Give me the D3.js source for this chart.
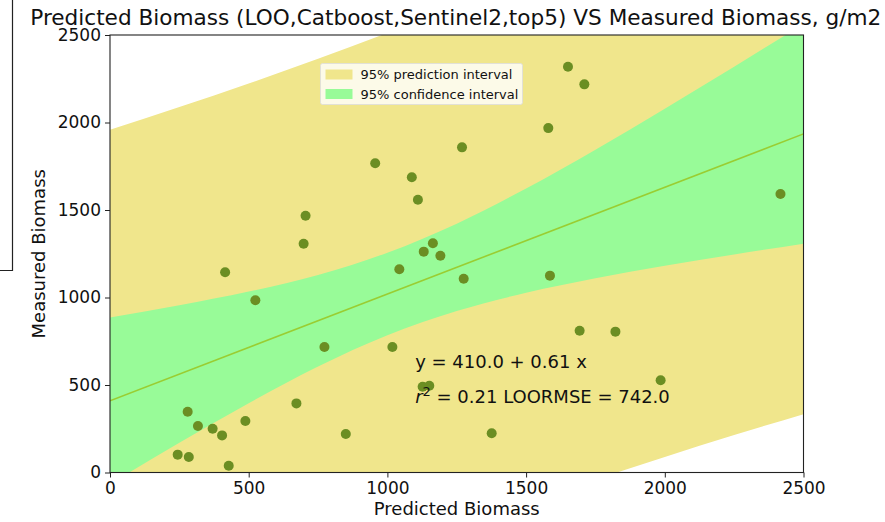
<!DOCTYPE html>
<html>
<head>
<meta charset="utf-8">
<script src="https://cdn.jsdelivr.net/npm/d3@7"></script>
<style>
  body { margin: 0; background: #fff; }
  svg { display: block; font-family: "DejaVu Sans", sans-serif; }
  .tick text { font-family: "DejaVu Sans", sans-serif; font-size: 17px; fill: #111; }
</style>
</head>
<body>
<svg id="chart" width="885" height="522"></svg>
<script>
// measured points (predicted, measured), g/m2
const predicted = [956, 1088, 1110, 705, 698, 415, 524, 1164, 1131, 1191, 1043, 773, 1018,
  280, 317, 370, 404, 488, 672, 850, 244, 284, 428, 1580, 1269, 1275, 1586, 1651, 1710,
  2417, 1693, 1822, 1985, 1127, 1151, 1376];
const measured = [1767, 1687, 1559, 1467, 1307, 1144, 984, 1310, 1262, 1239, 1161, 717, 717,
  347, 266, 250, 212, 294, 395, 220, 102, 89, 39, 1968, 1858, 1107, 1125, 2319, 2218,
  1591, 810, 805, 527, 490, 496, 224];

// interval bands
const bandX   = [0, 250, 500, 750, 1000, 1250, 1500, 1750, 2000, 2250, 2500];
const piLower = [-1139, -963, -793, -629, -472, -322, -179, -41, 89, 214, 333];
const piUpper = [1959, 2088, 2223, 2364, 2512, 2667, 2829, 2996, 3171, 3351, 3537];
const ciLower = [-66, 170, 396, 606, 785, 923, 1027, 1110, 1181, 1246, 1307];
const ciUpper = [886, 956, 1034, 1129, 1256, 1422, 1623, 1845, 2079, 2319, 2563];

// fitted line y = 410.0 + 0.61 x
const fitX = [0, 2500];
const fitY = [410, 1935];

const xTicks = [0, 500, 1000, 1500, 2000, 2500];
const yTicks = [0, 500, 1000, 1500, 2000, 2500];

const legendItems = [
  { label: "95% prediction interval", color: "#f0e68c" },
  { label: "95% confidence interval", color: "#98fb98" }
];

const svg = d3.select("#chart");
const plotLeft = 110, plotRight = 803.5, plotTop = 35, plotBottom = 472.5;

const x = d3.scaleLinear().domain([0, 2500]).range([plotLeft, plotRight]);
const y = d3.scaleLinear().domain([0, 2500]).range([plotBottom, plotTop]);

// stray frame line on the left edge of the screenshot
svg.append("path")
  .attr("d", "M12.5,0V270.5H0")
  .attr("fill", "none")
  .attr("stroke", "#222")
  .attr("stroke-width", 1.2);

svg.append("clipPath").attr("id", "plot-clip")
  .append("rect")
  .attr("x", plotLeft).attr("y", plotTop)
  .attr("width", plotRight - plotLeft).attr("height", plotBottom - plotTop);

const plot = svg.append("g").attr("clip-path", "url(#plot-clip)");

const band = (lo, hi) => d3.area()
  .x((d, i) => x(bandX[i]))
  .y0((d, i) => y(lo[i]))
  .y1((d, i) => y(hi[i]))
  .curve(d3.curveMonotoneX);

plot.append("path")
  .datum(bandX)
  .attr("d", band(piLower, piUpper))
  .attr("fill", "#f0e68c");

plot.append("path")
  .datum(bandX)
  .attr("d", band(ciLower, ciUpper))
  .attr("fill", "#98fb98");

plot.append("path")
  .datum(fitX)
  .attr("d", d3.line().x((d, i) => x(fitX[i])).y((d, i) => y(fitY[i])))
  .attr("fill", "none")
  .attr("stroke", "#9acd32")
  .attr("stroke-width", 1.6);

plot.selectAll("circle")
  .data(predicted)
  .enter().append("circle")
  .attr("cx", d => x(d))
  .attr("cy", (d, i) => y(measured[i]))
  .attr("r", 5)
  .attr("fill", "#6b8e23");

// axes
const fmt = d3.format("d");
const xAxis = svg.append("g")
  .attr("transform", `translate(0,${plotBottom})`)
  .call(d3.axisBottom(x).tickValues(xTicks).tickFormat(fmt)
    .tickSize(5).tickPadding(4).tickSizeOuter(0));
const yAxis = svg.append("g")
  .attr("transform", `translate(${plotLeft},0)`)
  .call(d3.axisLeft(y).tickValues(yTicks).tickFormat(fmt)
    .tickSize(5).tickPadding(4).tickSizeOuter(0));
[xAxis, yAxis].forEach(a => {
  a.select(".domain").remove();
  a.selectAll(".tick line").attr("stroke", "#222").attr("stroke-width", 1);
});

// spines
svg.append("rect")
  .attr("x", plotLeft).attr("y", plotTop)
  .attr("width", plotRight - plotLeft).attr("height", plotBottom - plotTop)
  .attr("fill", "none")
  .attr("stroke", "#222")
  .attr("stroke-width", 1.1);

// legend
const legend = svg.append("g").attr("transform", "translate(320.5,63.5)");
legend.append("rect")
  .attr("width", 202).attr("height", 41).attr("rx", 2)
  .attr("fill", "#fff").attr("fill-opacity", 0.8)
  .attr("stroke", "#ddd").attr("stroke-width", 0.8);
const li = legend.selectAll("g.item")
  .data(legendItems)
  .enter().append("g")
  .attr("transform", (d, i) => `translate(5,${6 + i * 19.5})`);
li.append("rect")
  .attr("width", 27).attr("height", 10)
  .attr("fill", d => d.color);
li.append("text")
  .attr("x", 35).attr("y", 9.5)
  .attr("font-size", 13)
  .attr("fill", "#111")
  .text(d => d.label);

// annotations
svg.append("text")
  .attr("x", x(1100)).attr("y", y(600))
  .attr("font-size", 18).attr("fill", "#111")
  .text("y = 410.0 + 0.61 x");
const r2 = svg.append("text")
  .attr("x", x(1100)).attr("y", y(400))
  .attr("font-size", 18).attr("fill", "#111");
r2.append("tspan").attr("font-style", "italic").text("r");
r2.append("tspan").attr("dy", -7).attr("font-size", 13).text("2");
r2.append("tspan").attr("dy", 7).text(" = 0.21 LOORMSE = 742.0");

// titles
svg.append("text")
  .attr("x", (plotLeft + plotRight) / 2 - 1).attr("y", 25)
  .attr("text-anchor", "middle")
  .attr("font-size", 21.6).attr("fill", "#111")
  .text("Predicted Biomass (LOO,Catboost,Sentinel2,top5) VS Measured Biomass, g/m2");

svg.append("text")
  .attr("x", (plotLeft + plotRight) / 2).attr("y", 515)
  .attr("text-anchor", "middle")
  .attr("font-size", 18).attr("fill", "#111")
  .text("Predicted Biomass");

svg.append("text")
  .attr("transform", `translate(45,${(plotTop + plotBottom) / 2}) rotate(-90)`)
  .attr("text-anchor", "middle")
  .attr("font-size", 18).attr("fill", "#111")
  .text("Measured Biomass");
</script>
</body>
</html>
